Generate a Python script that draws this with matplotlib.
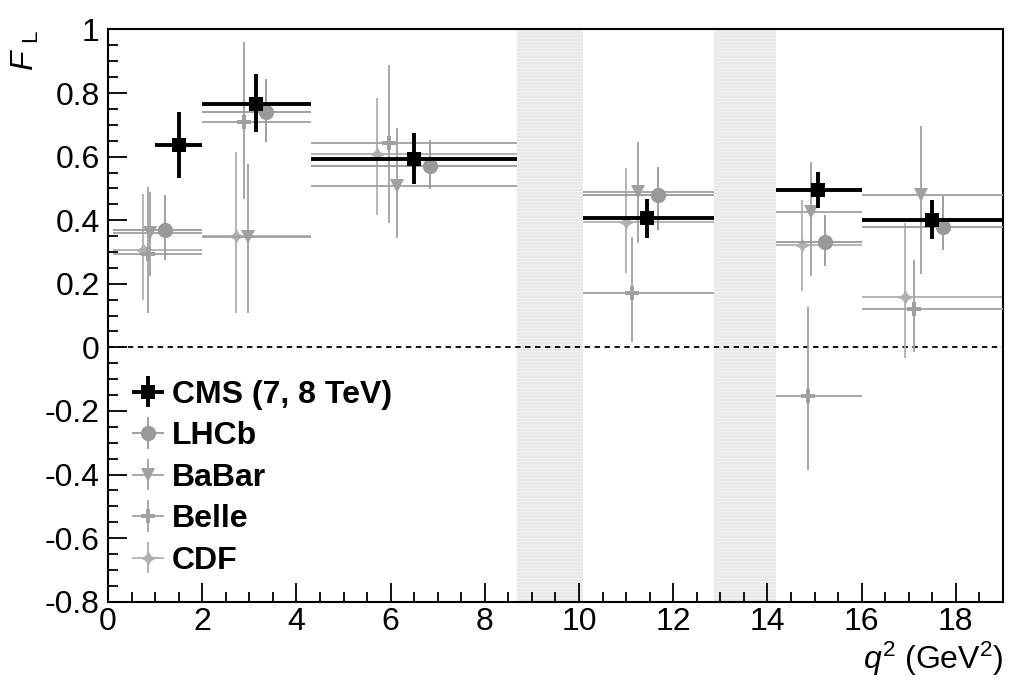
import matplotlib
matplotlib.use("Agg")
import matplotlib.pyplot as plt
from matplotlib.ticker import MultipleLocator

plt.rcParams['font.family'] = ['Liberation Sans', 'DejaVu Sans']
plt.rcParams['mathtext.fontset'] = 'custom'
plt.rcParams['mathtext.rm'] = 'Liberation Sans'
plt.rcParams['mathtext.it'] = 'Liberation Sans:italic'

# bin edges (q^2, GeV^2)
bin_lo = [0.1, 2.0, 4.3, 10.09, 14.18, 16.0]
bin_hi = [2.0, 4.3, 8.68, 12.86, 16.0, 19.0]
cms_lo = [1.0, 2.0, 4.3, 10.09, 14.18, 16.0]
vetoes = [(8.68, 10.09), (12.86, 14.18)]

cms_x = [1.5, 3.15, 6.5, 11.45, 15.08, 17.49]
cms_y = [0.637, 0.765, 0.592, 0.406, 0.495, 0.402]
cms_yhi = [0.742, 0.861, 0.674, 0.466, 0.553, 0.463]
cms_ylo = [0.534, 0.676, 0.514, 0.343, 0.437, 0.342]

lhcb_x = [1.22, 3.35, 6.84, 11.68, 15.22, 17.72]
lhcb_y = [0.37, 0.742, 0.57, 0.48, 0.33, 0.379]
lhcb_yhi = [0.479, 0.844, 0.653, 0.568, 0.416, 0.476]
lhcb_ylo = [0.274, 0.647, 0.497, 0.369, 0.256, 0.305]

babar_x = [0.9, 2.97, 6.14, 11.26, 14.93, 17.25]
babar_y = [0.36, 0.347, 0.507, 0.49, 0.426, 0.479]
babar_yhi = [0.49, 0.576, 0.69, 0.646, 0.584, 0.697]
babar_ylo = [0.223, 0.109, 0.344, 0.327, 0.226, 0.23]

belle_x = [0.84, 2.88, 5.97, 11.13, 14.87, 17.12]
belle_y = [0.295, 0.71, 0.642, 0.17, -0.153, 0.121]
belle_yhi = [0.505, 0.96, 0.889, 0.346, 0.128, 0.274]
belle_ylo = [0.109, 0.468, 0.39, 0.017, -0.386, -0.013]

cdf_x = [0.735, 2.72, 5.71, 11.0, 14.74, 16.93]
cdf_y = [0.305, 0.35, 0.607, 0.394, 0.323, 0.16]
cdf_yhi = [0.484, 0.616, 0.785, 0.564, 0.465, 0.392]
cdf_ylo = [0.15, 0.109, 0.416, 0.235, 0.177, -0.033]

fig = plt.figure(figsize=(10.17, 6.84), dpi=100)
ax = fig.add_axes([0.1062, 0.1203, 0.8800, 0.8366])

for a, b in vetoes:
    ax.axvspan(a, b, facecolor='#e8e8e8', edgecolor='#f2f2f2', hatch='-----', lw=0, zorder=0)
ax.axhline(0, color='black', ls=(0, (3, 2.5)), lw=1.3, zorder=1)


def draw(x, y, yhi, ylo, xlo, xhi, label, color, marker, ms, lw, cap, z, mew=0):
    xerr = [[xi - l for xi, l in zip(x, xlo)], [h - xi for xi, h in zip(x, xhi)]]
    yerr = [[yi - l for yi, l in zip(y, ylo)], [h - yi for yi, h in zip(y, yhi)]]
    return ax.errorbar(x, y, xerr=xerr, yerr=yerr, fmt='', marker=marker, ls='none',
                       color=color, ms=ms,
                       elinewidth=lw, capsize=cap, capthick=lw, mew=mew,
                       label=label, zorder=z)


h_cdf = draw(cdf_x, cdf_y, cdf_yhi, cdf_ylo, bin_lo, bin_hi, 'CDF', '#b0b0b0', (4, 1, 0), 11, 1.3, 2.5, 2)
h_belle = draw(belle_x, belle_y, belle_yhi, belle_ylo, bin_lo, bin_hi, 'Belle', '#a0a0a0', 'P', 10, 1.3, 2.5, 3)
h_babar = draw(babar_x, babar_y, babar_yhi, babar_ylo, bin_lo, bin_hi, 'BaBar', '#a0a0a0', 'v', 10, 1.3, 2.5, 4)
h_lhcb = draw(lhcb_x, lhcb_y, lhcb_yhi, lhcb_ylo, bin_lo, bin_hi, 'LHCb', '#999999', 'o', 11, 1.3, 2.5, 5)
h_cms = draw(cms_x, cms_y, cms_yhi, cms_ylo, cms_lo, bin_hi, 'CMS (7, 8 TeV)', 'black', 's', 10, 2.8, 2.0, 6)

ax.set_xlim(0, 19)
ax.set_ylim(-0.8, 1.0)
ax.xaxis.set_major_locator(MultipleLocator(2))
ax.xaxis.set_minor_locator(MultipleLocator(0.5))
ax.yaxis.set_minor_locator(MultipleLocator(0.05))
ax.set_yticks([1.0, 0.8, 0.6, 0.4, 0.2, 0.0, -0.2, -0.4, -0.6, -0.8])
ax.set_yticklabels(['1', '0.8', '0.6', '0.4', '0.2', '0', '-0.2', '-0.4', '-0.6', '-0.8'])
ax.tick_params(which='both', direction='in', top=False, right=False, labelsize=23, width=1.3)
ax.tick_params(which='major', length=14)
ax.tick_params(which='minor', length=7)
ax.tick_params(axis='y', pad=6)
ax.tick_params(axis='x', pad=4)
for s in ax.spines.values():
    s.set_linewidth(1.5)

ax.set_xlabel(r'$q^{2}$ (GeV$^{2}$)', fontsize=23, loc='right', labelpad=2)
ax.set_ylabel(r'$F_{\;\,\mathrm{L}}$', fontsize=23, loc='top')
ax.yaxis.set_label_coords(-0.075, 1.0)

leg = ax.legend(handles=[h_cms, h_lhcb, h_babar, h_belle, h_cdf], loc='upper left',
                bbox_to_anchor=(0.032, 0.388), frameon=False,
                prop={'weight': 'bold', 'size': 23}, handlelength=0.7,
                handletextpad=0.4, labelspacing=0.36, borderaxespad=0, borderpad=0)

fig.savefig('out.png', dpi=100)
